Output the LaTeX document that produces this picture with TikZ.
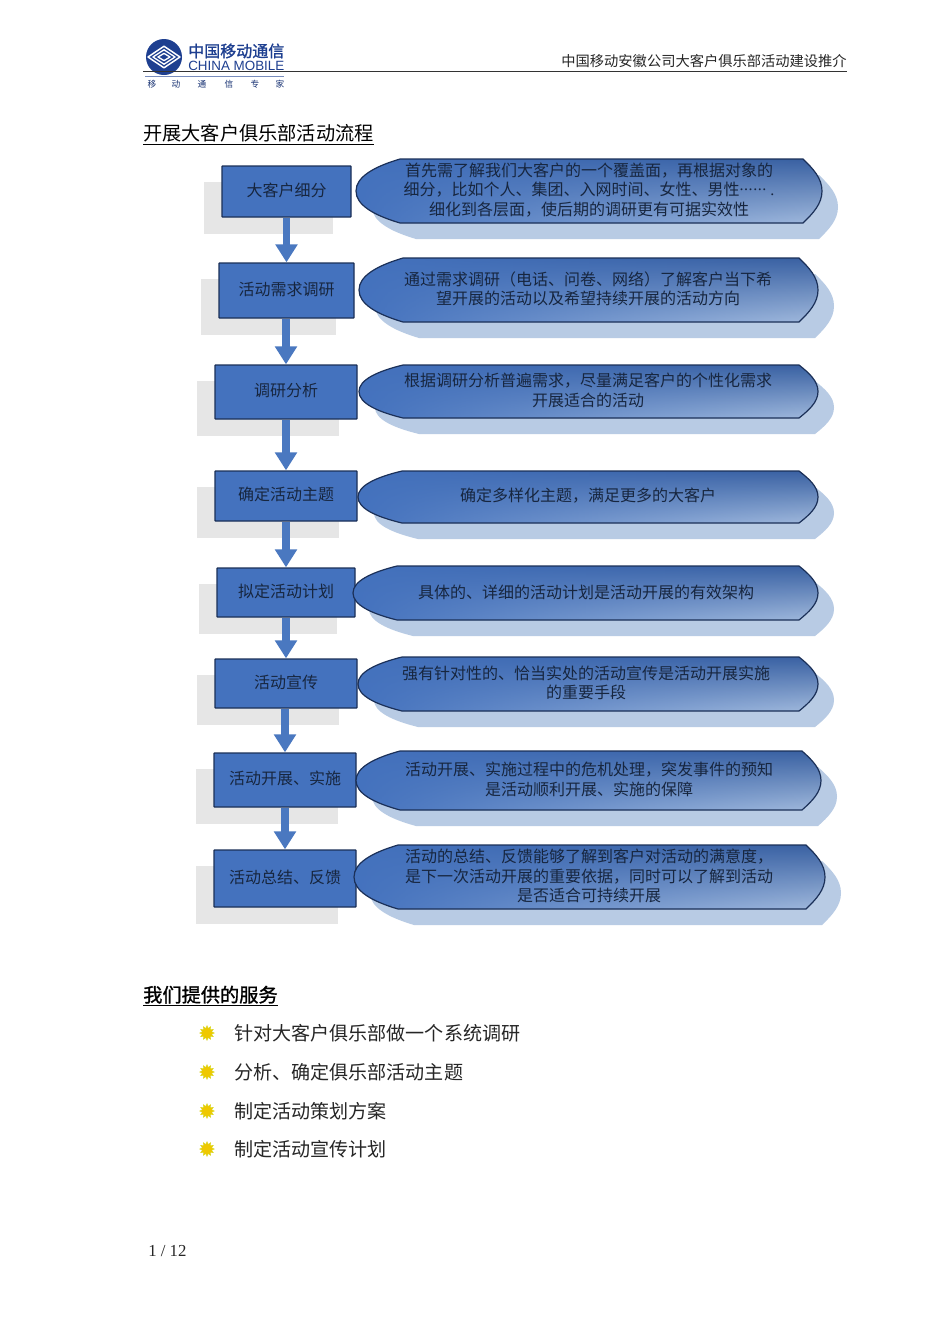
\documentclass[tikz,border=0pt]{standalone}
\usepackage{fontspec}
\setmainfont{Liberation Serif}
\newfontfamily\cjk{Noto Sans CJK SC}
\newfontfamily\cjkb[FakeBold=1.2]{Noto Sans CJK SC}
\newfontfamily\lsans{Liberation Sans}
\usetikzlibrary{arrows.meta,shapes.geometric,fadings}
\definecolor{boxblue}{HTML}{4472BE}
\definecolor{edge}{HTML}{1B3058}
\definecolor{ink}{HTML}{17263F}
\definecolor{shadowblue}{HTML}{B8CBE4}
\definecolor{grayshadow}{HTML}{E6E6E6}
\definecolor{arrowblue}{HTML}{4A78C0}
\definecolor{logoblue}{HTML}{1E3F90}
\definecolor{bulgold}{HTML}{EFC800}
\definecolor{bulrim}{HTML}{D8D820}
\tikzfading[name=leftsolid,left color=transparent!0,middle color=transparent!30,right color=transparent!100]
\tikzset{
  x=0.75pt,y=-0.75pt,
  stepbox/.style={draw=edge,line width=1pt,fill=boxblue,rounded corners=0.5pt,inner sep=0pt,font=\cjk\fontsize{12}{14}\selectfont,text=ink},
  calltext/.style={inner sep=0pt,align=center,font=\cjk\fontsize{12}{14.6}\selectfont,text=ink},
  flow/.style={draw=arrowblue,line width=5.3pt,-{Triangle[width=16pt,length=13.5pt]}},
  bul/.style={star,star points=12,star point ratio=1.55,minimum size=11pt,inner sep=0pt,fill=bulgold,draw=bulrim,line width=0.3pt},
  item/.style={anchor=west,inner sep=0pt,font=\cjk\fontsize{14.3}{16}\selectfont,text=black!85},
}
\newcommand{\calloutpath}[4]{%
  (#1+44,#2) -- (#3-19,#2)
  .. controls (#3-9,#2+0.15*#4-0.15*#2) and (#3,#2+0.3*#4-0.3*#2) .. (#3,#2+0.5*#4-0.5*#2)
  .. controls (#3,#2+0.7*#4-0.7*#2) and (#3-9,#2+0.85*#4-0.85*#2) .. (#3-19,#4)
  -- (#1+44,#4)
  .. controls (#1+18,#2+0.88*#4-0.88*#2) and (#1,#2+0.72*#4-0.72*#2) .. (#1,#2+0.5*#4-0.5*#2)
  .. controls (#1,#2+0.28*#4-0.28*#2) and (#1+18,#2+0.12*#4-0.12*#2) .. (#1+44,#2) -- cycle}
% name, left, top, right, bottom, text-x, text
\newcommand{\callout}[7]{%
  \fill[shadowblue,shift={(16,16)}] \calloutpath{#2}{#3}{#4}{#5};
  \shade[top color=black!15!boxblue,middle color=boxblue!85!white,bottom color=shadowblue!80!boxblue] \calloutpath{#2}{#3}{#4}{#5};
  \fill[boxblue,path fading=leftsolid] \calloutpath{#2}{#3}{#4}{#5};
  \draw[edge,line width=0.9pt] \calloutpath{#2}{#3}{#4}{#5};
  \node[calltext] (#1) at (#6,#3/2+#5/2-1) {#7};
}
% name, left, top, right, bottom, text
\newcommand{\stepnode}[6]{%
  \fill[grayshadow] (#2-18,#3+16) rectangle (#4-18,#5+17);
  \node[stepbox,minimum width=#4*0.75pt-#2*0.75pt,minimum height=#5*0.75pt-#3*0.75pt] (#1) at (#2/2+#4/2,#3/2+#5/2) {\rule[-3.5pt]{0pt}{14pt}\smash{#6}};
}
\newcommand{\dotrun}{\raisebox{0.33em}{\makebox[20pt][s]{\rmfamily .\hfil.\hfil.\hfil.\hfil.\hfil.}}\kern3pt{\rmfamily .}}
\begin{document}
\begin{tikzpicture}
\useasboundingbox[fill=white] (0,0) rectangle (950,1322);
% header
\fill[logoblue] (164,57) circle[radius=18];
\foreach \r/\w in {15/1.1,10/1,5/1}{
  \draw[white,line width=\w pt,line join=round] (164-\r-1,57) -- (164,57-\r*0.72) -- (164+\r+1,57) -- (164,57+\r*0.72) -- cycle;
}
\node[inner sep=0pt,anchor=west,text=logoblue,font=\cjkb\fontsize{12}{14}\selectfont] (logocn) at (188,51) {中国移动通信};
\node[inner sep=0pt,anchor=west,text=logoblue,font=\lsans\fontsize{10.05}{11}\selectfont] (logoen) at (188,65.5) {CHINA MOBILE};
\draw[black!80,line width=0.75pt] (143,71) -- (847,71);
\draw[logoblue!60,line width=0.6pt] (145,76) -- (284,76);
\foreach \x/\t [count=\i] in {152/移,176/动,202/通,229/信,255/专,280/家}{
  \node[inner sep=0pt,text=logoblue!80!black,font=\cjk\fontsize{6.5}{8}\selectfont] (logos\i) at (\x,84) {\t};
}
\node[inner sep=0pt,anchor=east,text=black!85,font=\cjk\fontsize{10.7}{12}\selectfont] (hdr) at (847,61.5) {中国移动安徽公司大客户俱乐部活动建设推介};
\node[inner sep=0pt,anchor=west,font=\cjk\fontsize{14.4}{16}\selectfont] (title1) at (143,135) {\underline{开展大客户俱乐部活动流程}};
% shadows + boxes
\stepnode{b1}{222}{166}{351}{217}{大客户细分}
\stepnode{b2}{219}{263}{354}{318}{活动需求调研}
\stepnode{b3}{215}{365}{357}{419}{调研分析}
\stepnode{b4}{215}{471}{357}{521}{确定活动主题}
\stepnode{b5}{217}{568}{355}{617}{拟定活动计划}
\stepnode{b6}{215}{659}{357}{708}{活动宣传}
\stepnode{b7}{214}{753}{356}{807}{活动开展、实施}
\stepnode{b8}{214}{850}{356}{907}{活动总结、反馈}
% arrows
\foreach \a/\b in {b1/b2,b2/b3,b3/b4,b4/b5,b5/b6,b6/b7,b7/b8}{
  \draw[flow] (\b.north |- \a.south) -- (\b.north);
}
% callouts
\callout{c1}{356}{159}{822}{223}{589}{首先需了解我们大客户的一个覆盖面，再根据对象的\\细分，比如个人、集团、入网时间、女性、男性\dotrun\\细化到各层面，使后期的调研更有可据实效性}
\callout{c2}{359}{258}{818}{322}{588}{通过需求调研（电话、问卷、网络）了解客户当下希\\望开展的活动以及希望持续开展的活动方向}
\callout{c3}{359}{365}{818}{418}{588}{根据调研分析普遍需求，尽量满足客户的个性化需求\\开展适合的活动}
\callout{c4}{358}{471}{818}{523}{588}{确定多样化主题，满足更多的大客户}
\callout{c5}{353}{566}{818}{620}{586}{具体的、详细的活动计划是活动开展的有效架构}
\callout{c6}{358}{657}{818}{711}{586}{强有针对性的、恰当实处的活动宣传是活动开展实施\\的重要手段}
\callout{c7}{356}{751}{821}{810}{589}{活动开展、实施过程中的危机处理，突发事件的预知\\是活动顺利开展、实施的保障}
\callout{c8}{354}{845}{825}{909}{589}{活动的总结、反馈能够了解到客户对活动的满意度，\\是下一次活动开展的重要依据，同时可以了解到活动\\是否适合可持续开展}
% services
\node[inner sep=0pt,anchor=west,font=\cjkb\fontsize{14.4}{16}\selectfont] (title2) at (143,996) {\underline{我们提供的服务}};
\foreach \y/\t [count=\i] in {1033/针对大客户俱乐部做一个系统调研,1072/分析、确定俱乐部活动主题,1111/制定活动策划方案,1149/制定活动宣传计划}{
  \node[bul] (s\i) at (207,\y) {};
  \node[item] (t\i) at (234,\y) {\t};
}
\node[inner sep=0pt,anchor=west,font=\fontsize{12.6}{14}\selectfont,text=black!85] (page) at (148,1251) {1 / 12};
\end{tikzpicture}
\end{document}
